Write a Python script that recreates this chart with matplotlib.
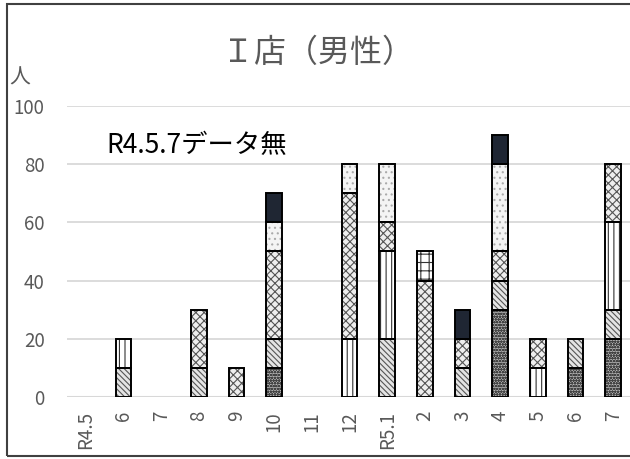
import matplotlib
matplotlib.use("Agg")
import matplotlib.pyplot as plt
from matplotlib.patches import Rectangle
import numpy as np

plt.rcParams['font.family'] = ['Noto Sans CJK JP', 'DejaVu Sans']
plt.rcParams['hatch.linewidth'] = 0.8

# months (R4.5 .. R5.7)
months = ['R4.5', '6', '7', '8', '9', '10', '11', '12', 'R5.1',
          '2', '3', '4', '5', '6', '7']

# stacked series, bottom to top (people)
s_dots   = [0, 0, 0, 0, 0, 10, 0, 0, 0, 0, 0, 30, 0, 10, 20]
s_diag   = [0, 10, 0, 10, 0, 10, 0, 0, 20, 0, 10, 10, 0, 10, 10]
s_vert   = [0, 10, 0, 0, 0, 0, 0, 20, 30, 0, 0, 0, 10, 0, 30]
s_wave   = [0, 0, 0, 20, 10, 30, 0, 50, 10, 40, 10, 10, 10, 0, 20]
s_grid   = [0, 0, 0, 0, 0, 0, 0, 0, 0, 10, 0, 0, 0, 0, 0]
s_light  = [0, 0, 0, 0, 0, 10, 0, 10, 20, 0, 0, 30, 0, 0, 0]
s_dark   = [0, 0, 0, 0, 0, 10, 0, 0, 0, 0, 10, 10, 0, 0, 0]

series = [s_dots, s_diag, s_vert, s_wave, s_grid, s_light, s_dark]
# (facecolor, hatch, hatch colour)
styles = [
    ('#b8b8b8', 'oooooo', '#444444'),
    ('#e4e4e4', '\\\\\\\\\\\\', '#555555'),
    ('#ffffff', '|||', '#333333'),
    ('#eeeeee', 'xxxx', '#555555'),
    ('#ffffff', '++', '#333333'),
    ('#f4f4f4', '...', '#aaaaaa'),
    ('#1f2633', None, '#1f2633'),
]

fig = plt.figure(figsize=(6.30, 4.59), dpi=100)
ax = fig.add_axes([0.1063, 0.1351, 0.897, 0.634])

x = np.arange(len(months))
w = 0.42
bottom = np.zeros(len(months))
for vals, (fc, hatch, hc) in zip(series, styles):
    vals = np.array(vals, dtype=float)
    idx = vals > 0
    # hatch layer
    ax.bar(x[idx], vals[idx], w, bottom=bottom[idx], color=fc,
           hatch=hatch, edgecolor=hc, linewidth=0, zorder=2)
    # outline layer
    ax.bar(x[idx], vals[idx], w, bottom=bottom[idx], fill=False,
           edgecolor='black', linewidth=1.4, zorder=3)
    bottom += vals

ax.set_xlim(-0.5, len(months) - 0.5)
ax.set_ylim(0, 100)
ax.set_yticks([0, 20, 40, 60, 80, 100])
ax.grid(axis='y', color='#d9d9d9', linewidth=1.3, zorder=0)
ax.axhline(0, color='#d0d0d0', linewidth=2.2, zorder=1)
for sp in ax.spines.values():
    sp.set_visible(False)
ax.set_xticks(x)
ax.set_xticklabels(months, rotation=90)
ax.tick_params(axis='y', length=0, pad=16, labelsize=13.5, labelcolor='#595959')
ax.tick_params(axis='x', length=0, pad=10, labelsize=13.5, labelcolor='#595959')

fig.text(0.505, 0.885, 'Ｉ店（男性）', ha='center', va='center',
         fontsize=23, color='#595959')
fig.text(0.032, 0.832, '人', ha='center', va='center',
         fontsize=15, color='#595959')
ax.text(0.55, 86.5, 'R4.5.7データ無', ha='left', va='center',
        fontsize=19, color='black')

fig.add_artist(Rectangle((0.011, 0.0065), 1.2, 0.985, transform=fig.transFigure,
                         fill=False, edgecolor='#404040', linewidth=1.5))

fig.savefig('out.png', dpi=100)
